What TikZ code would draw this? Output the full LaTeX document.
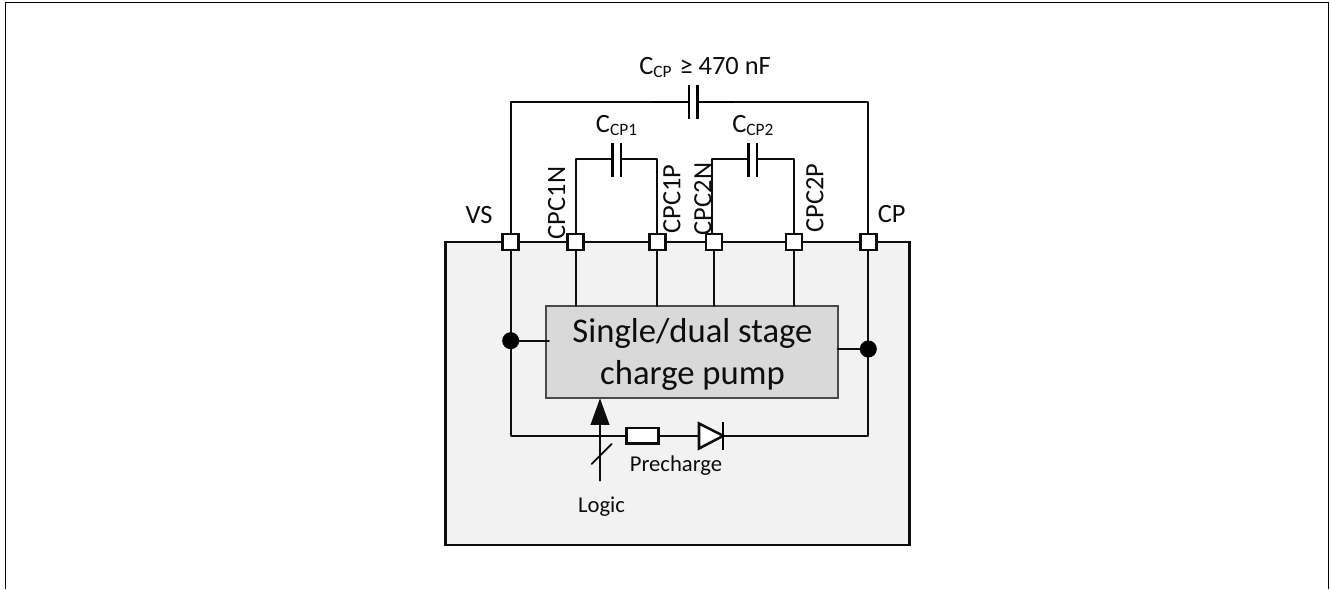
\documentclass[tikz,border=0pt]{standalone}
\usepackage{fontspec}
\setmainfont{Carlito}
\usetikzlibrary{arrows.meta}
\definecolor{chipbg}{HTML}{F2F2F2}
\definecolor{pumpbg}{HTML}{D9D9D9}
\definecolor{ink}{HTML}{0D0D0D}
\tikzset{
  wire/.style={draw=ink,line width=1.35pt,line cap=round,line join=round},
  platewire/.style={draw=black,line width=1.9pt},
  pin/.style={draw=ink,fill=white,line width=2pt,minimum size=12pt,inner sep=0pt,outer sep=0pt},
  dotmark/.style={circle,fill=black,minimum size=12.8pt,inner sep=0pt,outer sep=0pt},
  lab/.style={anchor=base,inner sep=0pt,text=ink,font=\fontsize{19.8}{22}\selectfont},
  pinlab/.style={inner sep=0pt,text=ink,rotate=90,font=\fontsize{19.8}{22}\selectfont},
  smalllab/.style={anchor=base,inner sep=0pt,text=ink,font=\fontsize{17}{19}\selectfont},
  bigtext/.style={anchor=base,inner sep=0pt,text=ink,font=\fontsize{26}{29}\selectfont},
}
\newcommand{\subcp}[1]{\raisebox{-2.4pt}{\fontsize{13}{14}\selectfont #1}}
\begin{document}
\begin{tikzpicture}[x=0.75pt,y=-0.75pt]
\useasboundingbox (0,0) rectangle (1330,589);
\draw[line width=1.1pt,draw=black] (5.5,589) -- (5.5,2.3) -- (1328.7,2.3) -- (1328.7,589);
% chip
\node[draw=ink,fill=chipbg,line width=1.6pt,anchor=north west,minimum width=348pt,minimum height=227.2pt,inner sep=0pt,outer sep=0pt] (chip) at (445.5,242) {};
% pump
\node[draw=ink!75,fill=pumpbg,line width=1.5pt,anchor=north west,minimum width=218.5pt,minimum height=69.2pt,inner sep=0pt,outer sep=0pt] (pump) at (546.3,306) {};
\node[bigtext] (t1) at (692.5,342.7) {Single/dual stage};
\node[bigtext] (t2) at (692.5,384.3) {charge pump};
% pins
\node[pin] (vs) at (510.7,242) {};
\node[pin] (c1n) at (575.7,242) {};
\node[pin] (c1p) at (657.3,242) {};
\node[pin] (c2n) at (714,242) {};
\node[pin] (c2p) at (794,242) {};
\node[pin] (cp) at (868.3,242) {};
% pin labels
\node[lab] (lvs) at (479,223) {VS};
\node[lab] (lcp) at (891.7,222) {CP};
\node[pinlab] (l1) at (556.7,203) {CPC1N};
\node[pinlab] (l2) at (672,199) {CPC1P};
\node[pinlab] (l3) at (703,199) {CPC2N};
\node[pinlab] (l4) at (815,198) {CPC2P};
% capacitor plates as coordinates
\coordinate (ccl) at (689,102);
\coordinate (ccr) at (697.3,102);
\coordinate (c1l) at (612.7,159.3);
\coordinate (c1r) at (621,159.3);
\coordinate (c2l) at (748.7,159.3);
\coordinate (c2r) at (757,159.3);
% CP capacitor
\draw[wire] (vs.north) -- (vs.north |- ccl) -- (ccl);
\draw[wire] (cp.north) -- (cp.north |- ccr) -- (ccr);
\draw[platewire] (651.7,102) -- (ccl) (ccr) -- (734,102);
\draw[platewire] (689,85) -- (689,119) (697.3,85) -- (697.3,119);
% CP1
\draw[wire] (c1n.north) -- (c1n.north |- c1l) -- (c1l);
\draw[wire] (c1p.north) -- (c1p.north |- c1r) -- (c1r);
\draw[platewire] (612.7,142.7) -- (612.7,176.7) (621,142.7) -- (621,176.7);
% CP2
\coordinate (c2nt) at (711.7,233.5);
\draw[wire] (c2nt) -- (c2nt |- c2l) -- (c2l);
\draw[wire] (c2p.north) -- (c2p.north |- c2r) -- (c2r);
\draw[platewire] (748.7,142.7) -- (748.7,176.7) (757,142.7) -- (757,176.7);
% cap labels
\node[lab,anchor=base west] (lcc) at (639,74) {C\subcp{CP}\hspace{6pt}≥ 470 nF};
\node[lab,anchor=base west] (lc1) at (595.7,132.7) {C\subcp{CP1}};
\node[lab,anchor=base west] (lc2) at (732,132.7) {C\subcp{CP2}};
% pin to pump
\draw[wire] (c1n.south) -- (c1n.south |- pump.north);
\draw[wire] (c1p.south) -- (c1p.south |- pump.north);
\draw[wire] (c2n.south) -- (c2n.south |- pump.north);
\draw[wire] (c2p.south) -- (c2p.south |- pump.north);
% precharge path
\node[draw=ink,fill=white,line width=1.9pt,minimum width=24pt,minimum height=11.8pt,inner sep=0pt,outer sep=0pt] (res) at (642.7,435.8) {};
\coordinate (da) at (699,435.8);
\coordinate (dk) at (723.3,435.8);
\draw[wire] (vs.south) -- (vs.south |- da) -- (res.west);
\draw[wire] (res.east) -- (da);
\draw[wire] (dk) -- (cp.south |- dk) -- (cp.south);
\draw[draw=ink,fill=white,line width=1.9pt,line join=miter] (699,423.5) -- (dk) -- (699,448.5) -- cycle;
\draw[draw=black,line width=1.7pt] (723.3,422) -- (723.3,450);
% dots
\node[dotmark] (dl) at (510.7,340.7) {};
\node[dotmark] (dr) at (868.3,349) {};
\draw[wire] (dl) -- (549,340.7);
\draw[wire] (dr) -- (pump.east |- dr);
% logic arrow
\coordinate (ls) at (600,480.7);
\draw[wire,-{Triangle[length=20pt,width=14pt]}] (ls) -- (ls |- pump.south);
\draw[wire] (591.7,464) -- (611.7,444);
\node[smalllab] (lp) at (676,471.7) {Precharge};
\node[smalllab] (ll) at (601.5,512.7) {Logic};
\end{tikzpicture}
\end{document}
